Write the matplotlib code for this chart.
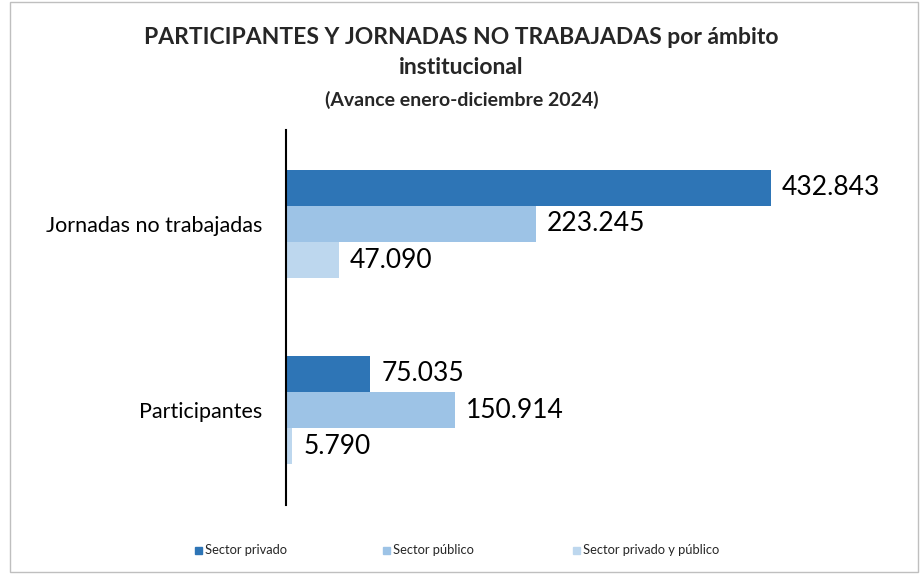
import matplotlib.pyplot as plt
from matplotlib.patches import Rectangle

categories = ['Participantes', 'Jornadas no trabajadas']
series = ['Sector privado', 'Sector público', 'Sector privado y público']
privado = [75035, 432843]
publico = [150914, 223245]
privado_publico = [5790, 47090]
labels_fmt = lambda v: f'{v:,}'.replace(',', '.')

colors = ['#2E75B6', '#9DC3E6', '#BDD7EE']
plt.rcParams['font.family'] = ['Lato', 'DejaVu Sans']

fig = plt.figure(figsize=(9.23, 5.75), dpi=100)
fig.patches.append(Rectangle((0.011, 0.006), 0.984, 0.99, transform=fig.transFigure,
                             fill=False, edgecolor='#BFBFBF', linewidth=1))

# axes from x=286..846 px, y=130..505 px
ax = fig.add_axes([286 / 923, 1 - 505 / 575, 560 / 923, 375 / 575])

h = 0.194
offsets = [h, 0, -h]
for vals, off, col, name in zip([privado, publico, privado_publico], offsets, colors, series):
    ys = [i + off for i in range(len(categories))]
    ax.barh(ys, vals, height=h, color=col, label=name, edgecolor='none')
    for y, v in zip(ys, vals):
        ax.text(v + 10000, y, labels_fmt(v), va='center', ha='left', fontsize=19, color='black')

ax.set_xlim(0, 500000)
ax.set_ylim(-0.51, 1.505)
ax.set_yticks(range(len(categories)))
ax.set_yticklabels(categories, fontsize=15.5)
ax.tick_params(axis='y', length=0, pad=17)
ax.set_xticks([])
for s in ['top', 'right', 'bottom']:
    ax.spines[s].set_visible(False)
ax.spines['left'].set_linewidth(1.5)

fig.text(0.5, 1 - 37 / 575, 'PARTICIPANTES Y JORNADAS NO TRABAJADAS por ámbito',
         ha='center', va='center', fontsize=16.5, fontweight='bold', color='#262626')
fig.text(0.5, 1 - 68 / 575, 'institucional', ha='center', va='center',
         fontsize=16.5, fontweight='bold', color='#262626')
fig.text(0.5, 1 - 100 / 575, '(Avance enero-diciembre 2024)', ha='center', va='center',
         fontsize=14, fontweight='bold', color='#262626')

leg_x = [195, 383, 573]
for x, col, name in zip(leg_x, colors, series):
    fig.patches.append(Rectangle((x / 923, 1 - 554 / 575), 7 / 923, 7 / 575,
                                 transform=fig.transFigure, color=col))
    fig.text((x + 10) / 923, 1 - 550 / 575, name, ha='left', va='center',
             fontsize=9.3, color='#262626')

fig.savefig('out.png', dpi=100)
